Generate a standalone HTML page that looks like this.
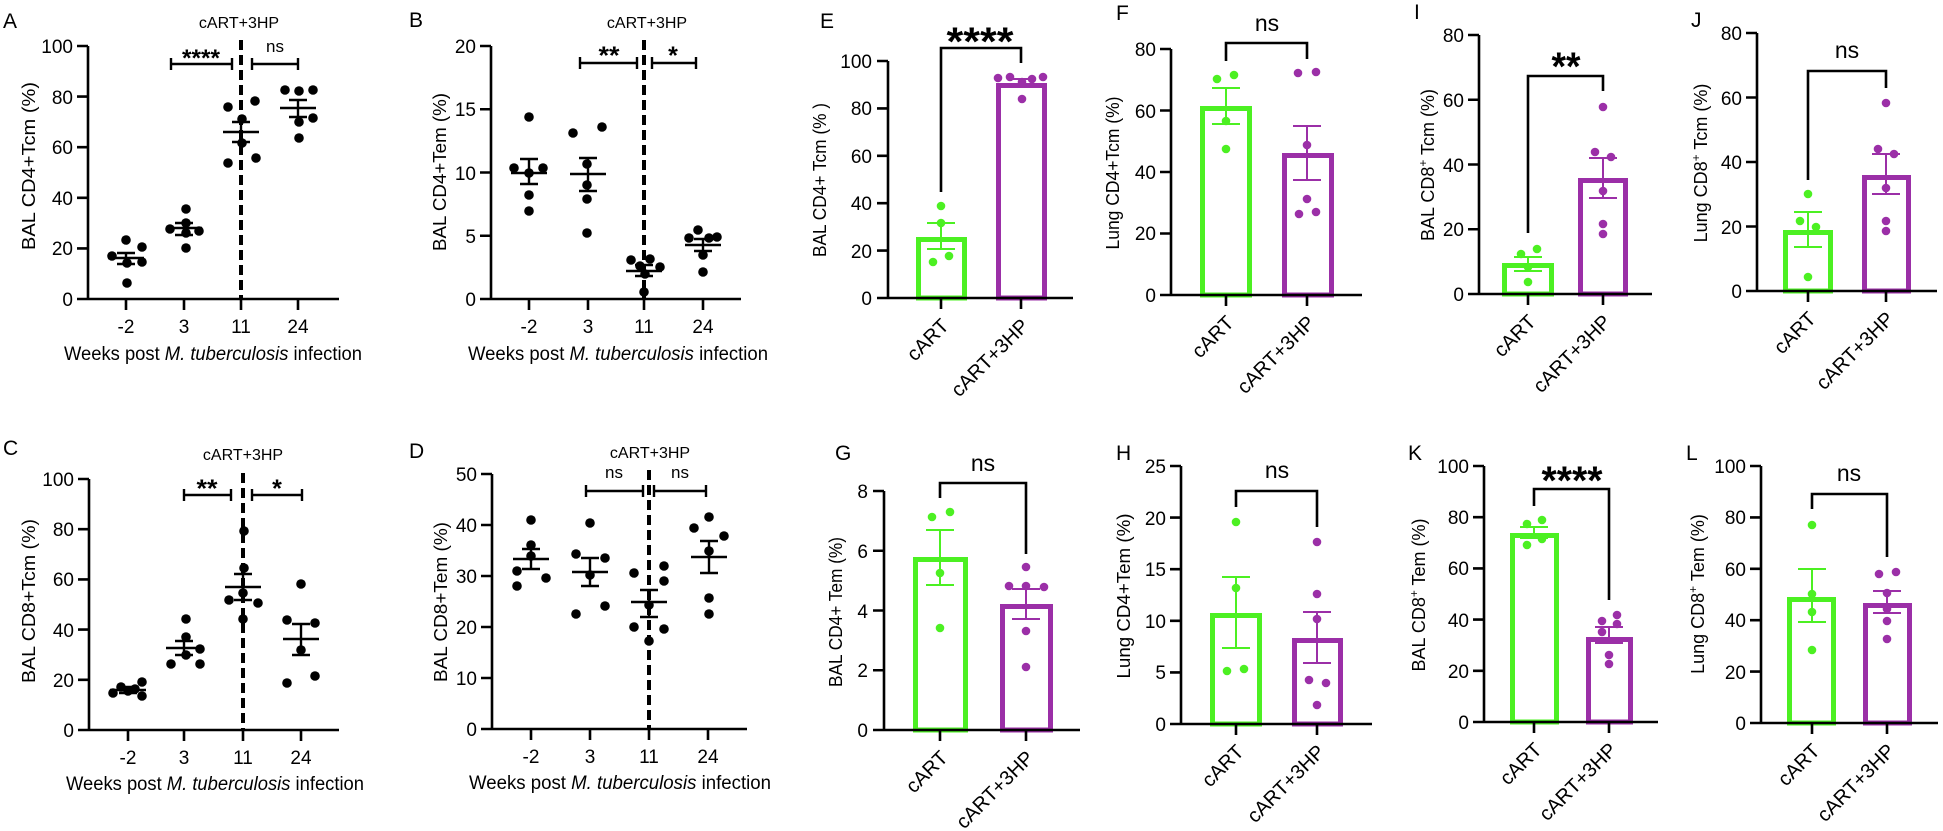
<!DOCTYPE html>
<html><head><meta charset="utf-8"><style>
html,body{margin:0;padding:0;background:#fff}
svg{display:block}
text{font-family:"Liberation Sans",Arial,sans-serif;fill:#000}
.k{stroke:#000;stroke-width:2.6;fill:none}
.m{stroke:#000;stroke-width:2.4;fill:none}
.dash{stroke:#000;stroke-width:4;stroke-dasharray:10 5;fill:none}
.gb{stroke:#4cf022;stroke-width:5;fill:none}
.pb{stroke:#9b2fa7;stroke-width:5;fill:none}
.gs{stroke:#4cf022;stroke-width:2;fill:none}
.ps{stroke:#9b2fa7;stroke-width:2;fill:none}
.gd{fill:#4cf022}
.pd{fill:#9b2fa7}
.tl{font-size:19px}
.tr{font-size:19px;text-anchor:end}
.tm{font-size:19px;text-anchor:middle}
.yt{font-size:18px;text-anchor:middle}
.xl{font-size:20px;text-anchor:end}
.lab{font-size:21px}
.ast{font-weight:bold;text-anchor:middle}
.ns{text-anchor:middle}
.hp{font-size:16px;text-anchor:middle}
</style></head><body>
<svg width="1943" height="831" viewBox="0 0 1943 831" xmlns="http://www.w3.org/2000/svg">

<!-- ================= PANEL A ================= -->
<text class="lab" x="3" y="28">A</text>
<text class="yt" transform="translate(35,166) rotate(-90)" textLength="168" lengthAdjust="spacingAndGlyphs">BAL CD4+Tcm (%)</text>
<path class="k" d="M88,46V299M77,299H339M77,299H88M77,248.4H88M77,197.8H88M77,147.2H88M77,96.6H88M77,46H88M126,299V310M184,299V310M241,299V310M298,299V310"/>
<text class="tr" x="73" y="306">0</text><text class="tr" x="73" y="255">20</text><text class="tr" x="73" y="205">40</text><text class="tr" x="73" y="154">60</text><text class="tr" x="73" y="104">80</text><text class="tr" x="73" y="53">100</text>
<text class="tm" x="126" y="333">-2</text><text class="tm" x="184" y="333">3</text><text class="tm" x="241" y="333">11</text><text class="tm" x="298" y="333">24</text>
<text class="tm" x="213" y="360" textLength="298" lengthAdjust="spacingAndGlyphs">Weeks post <tspan font-style="italic">M. tuberculosis</tspan> infection</text>
<text class="hp" x="239" y="28">cART+3HP</text>
<path class="dash" d="M241,40V299"/>
<path class="m" d="M171,64H232M171,58V70M232,58V70M252,64H298M252,58V70M298,58V70"/>
<text class="ast" x="201" y="66" font-size="24" textLength="38" lengthAdjust="spacingAndGlyphs">****</text>
<text class="ns" x="275" y="52" font-size="17">ns</text>
<g class="d">
<circle cx="126" cy="240" r="4.8"/><circle cx="112" cy="256" r="4.8"/><circle cx="142" cy="247" r="4.8"/><circle cx="127" cy="263" r="4.8"/><circle cx="142" cy="262" r="4.8"/><circle cx="127" cy="283" r="4.8"/>
<circle cx="186" cy="209" r="4.8"/><circle cx="170" cy="229" r="4.8"/><circle cx="186" cy="223" r="4.8"/><circle cx="199" cy="231" r="4.8"/><circle cx="186" cy="233" r="4.8"/><circle cx="186" cy="248" r="4.8"/>
<circle cx="228" cy="107" r="4.8"/><circle cx="255" cy="101" r="4.8"/><circle cx="242" cy="119" r="4.8"/><circle cx="242" cy="143" r="4.8"/><circle cx="228" cy="163" r="4.8"/><circle cx="256" cy="158" r="4.8"/>
<circle cx="285" cy="90" r="4.8"/><circle cx="299" cy="91" r="4.8"/><circle cx="313" cy="90" r="4.8"/><circle cx="313" cy="118" r="4.8"/><circle cx="299" cy="122" r="4.8"/><circle cx="299" cy="138" r="4.8"/>
</g>
<path class="m" d="M108,258H144M126,253V264M117,253H135M117,264H135
M166,228H202M184,223V235M175,223H193M175,235H193
M223,132H259M241,122V142M232,122H250M232,142H250
M280,108H316M298,100V117M289,100H307M289,117H307"/>

<!-- ================= PANEL B ================= -->
<text class="lab" x="409" y="27">B</text>
<text class="yt" transform="translate(446,172) rotate(-90)" textLength="158" lengthAdjust="spacingAndGlyphs">BAL CD4+Tem (%)</text>
<path class="k" d="M491,46V299M480,299H741M480,235.75H491M480,172.5H491M480,109.25H491M480,46H491M529,299V310M588,299V310M644,299V310M703,299V310"/>
<text class="tr" x="476" y="306">0</text><text class="tr" x="476" y="243">5</text><text class="tr" x="476" y="180">10</text><text class="tr" x="476" y="116">15</text><text class="tr" x="476" y="53">20</text>
<text class="tm" x="529" y="333">-2</text><text class="tm" x="588" y="333">3</text><text class="tm" x="644" y="333">11</text><text class="tm" x="703" y="333">24</text>
<text class="tm" x="618" y="360" textLength="300" lengthAdjust="spacingAndGlyphs">Weeks post <tspan font-style="italic">M. tuberculosis</tspan> infection</text>
<text class="hp" x="647" y="28">cART+3HP</text>
<path class="dash" d="M644,40V299"/>
<path class="m" d="M580,63H637M580,57V69M637,57V69M652,63H696M652,57V69M696,57V69"/>
<text class="ast" x="609" y="64" font-size="25" textLength="21" lengthAdjust="spacingAndGlyphs">**</text>
<text class="ast" x="673" y="64" font-size="25">*</text>
<g class="d">
<circle cx="529" cy="117" r="4.8"/><circle cx="514" cy="168" r="4.8"/><circle cx="529" cy="173" r="4.8"/><circle cx="543" cy="168" r="4.8"/><circle cx="529" cy="195" r="4.8"/><circle cx="529" cy="211" r="4.8"/>
<circle cx="573" cy="133" r="4.8"/><circle cx="602" cy="127" r="4.8"/><circle cx="587" cy="164" r="4.8"/><circle cx="587" cy="185" r="4.8"/><circle cx="587" cy="199" r="4.8"/><circle cx="587" cy="233" r="4.8"/>
<circle cx="631" cy="260" r="4.8"/><circle cx="650" cy="259" r="4.8"/><circle cx="640" cy="266" r="4.8"/><circle cx="660" cy="267" r="4.8"/><circle cx="645" cy="274" r="4.8"/><circle cx="644" cy="292" r="4.8"/>
<circle cx="689" cy="238" r="4.8"/><circle cx="698" cy="230" r="4.8"/><circle cx="709" cy="238" r="4.8"/><circle cx="717" cy="237" r="4.8"/><circle cx="703" cy="255" r="4.8"/><circle cx="703" cy="272" r="4.8"/>
</g>
<path class="m" d="M511,173H547M529,159V184M520,159H538M520,184H538
M570,174H606M588,158V191M579,158H597M579,191H597
M626,271H662M644,265V276M635,265H653M635,276H653
M685,245H721M703,239V251M694,239H712M694,251H712"/>

<!-- ================= PANEL C ================= -->
<text class="lab" x="3" y="455">C</text>
<text class="yt" transform="translate(35,601) rotate(-90)" textLength="164" lengthAdjust="spacingAndGlyphs">BAL CD8+Tcm (%)</text>
<path class="k" d="M89,479V730M78,730H339M78,679.8H89M78,629.6H89M78,579.4H89M78,529.2H89M78,479H89M128,730V741M184,730V741M243,730V741M301,730V741"/>
<text class="tr" x="74" y="737">0</text><text class="tr" x="74" y="687">20</text><text class="tr" x="74" y="637">40</text><text class="tr" x="74" y="586">60</text><text class="tr" x="74" y="536">80</text><text class="tr" x="74" y="486">100</text>
<text class="tm" x="128" y="764">-2</text><text class="tm" x="184" y="764">3</text><text class="tm" x="243" y="764">11</text><text class="tm" x="301" y="764">24</text>
<text class="tm" x="215" y="790" textLength="298" lengthAdjust="spacingAndGlyphs">Weeks post <tspan font-style="italic">M. tuberculosis</tspan> infection</text>
<text class="hp" x="243" y="460">cART+3HP</text>
<path class="dash" d="M243,473V730"/>
<path class="m" d="M184,495H231M184,489V501M231,489V501M252,495H302M252,489V501M302,489V501"/>
<text class="ast" x="207" y="497" font-size="25" textLength="21" lengthAdjust="spacingAndGlyphs">**</text>
<text class="ast" x="277" y="497" font-size="25">*</text>
<g class="d">
<circle cx="113" cy="693" r="4.8"/><circle cx="121" cy="687" r="4.8"/><circle cx="128" cy="691" r="4.8"/><circle cx="135" cy="689" r="4.8"/><circle cx="142" cy="682" r="4.8"/><circle cx="142" cy="696" r="4.8"/>
<circle cx="186" cy="619" r="4.8"/><circle cx="186" cy="637" r="4.8"/><circle cx="171" cy="664" r="4.8"/><circle cx="186" cy="655" r="4.8"/><circle cx="200" cy="649" r="4.8"/><circle cx="200" cy="664" r="4.8"/>
<circle cx="244" cy="531" r="4.8"/><circle cx="244" cy="568" r="4.8"/><circle cx="229" cy="600" r="4.8"/><circle cx="243" cy="593" r="4.8"/><circle cx="258" cy="603" r="4.8"/><circle cx="243" cy="619" r="4.8"/>
<circle cx="301" cy="584" r="4.8"/><circle cx="287" cy="620" r="4.8"/><circle cx="315" cy="623" r="4.8"/><circle cx="301" cy="650" r="4.8"/><circle cx="287" cy="683" r="4.8"/><circle cx="315" cy="676" r="4.8"/>
</g>
<path class="m" d="M110,690H146M128,687V693M119,687H137M119,693H137
M166,648H202M184,641V655M175,641H193M175,655H193
M225,587H261M243,574V600M234,574H252M234,600H252
M283,639H319M301,624V655M292,624H310M292,655H310"/>

<!-- ================= PANEL D ================= -->
<text class="lab" x="409" y="458">D</text>
<text class="yt" transform="translate(447,602) rotate(-90)" textLength="160" lengthAdjust="spacingAndGlyphs">BAL CD8+Tem (%)</text>
<path class="k" d="M492,474V729M481,729H747M481,678H492M481,627H492M481,576H492M481,525H492M481,474H492M531,729V740M590,729V740M649,729V740M708,729V740"/>
<text class="tr" x="477" y="736">0</text><text class="tr" x="477" y="685">10</text><text class="tr" x="477" y="634">20</text><text class="tr" x="477" y="583">30</text><text class="tr" x="477" y="532">40</text><text class="tr" x="477" y="481">50</text>
<text class="tm" x="531" y="763">-2</text><text class="tm" x="590" y="763">3</text><text class="tm" x="649" y="763">11</text><text class="tm" x="708" y="763">24</text>
<text class="tm" x="620" y="789" textLength="302" lengthAdjust="spacingAndGlyphs">Weeks post <tspan font-style="italic">M. tuberculosis</tspan> infection</text>
<text class="hp" x="650" y="458">cART+3HP</text>
<path class="dash" d="M649,470V729"/>
<path class="m" d="M586,491H643M586,485V497M643,485V497M654,491H706M654,485V497M706,485V497"/>
<text class="ns" x="614" y="478" font-size="17">ns</text>
<text class="ns" x="680" y="478" font-size="17">ns</text>
<g class="d">
<circle cx="531" cy="520" r="4.8"/><circle cx="531" cy="545" r="4.8"/><circle cx="531" cy="556" r="4.8"/><circle cx="517" cy="571" r="4.8"/><circle cx="546" cy="578" r="4.8"/><circle cx="517" cy="586" r="4.8"/>
<circle cx="590" cy="523" r="4.8"/><circle cx="576" cy="554" r="4.8"/><circle cx="605" cy="558" r="4.8"/><circle cx="590" cy="575" r="4.8"/><circle cx="576" cy="614" r="4.8"/><circle cx="605" cy="606" r="4.8"/>
<circle cx="634" cy="573" r="4.8"/><circle cx="664" cy="566" r="4.8"/><circle cx="664" cy="581" r="4.8"/><circle cx="649" cy="605" r="4.8"/><circle cx="634" cy="627" r="4.8"/><circle cx="664" cy="629" r="4.8"/><circle cx="649" cy="641" r="4.8"/>
<circle cx="709" cy="517" r="4.8"/><circle cx="694" cy="528" r="4.8"/><circle cx="724" cy="536" r="4.8"/><circle cx="709" cy="551" r="4.8"/><circle cx="709" cy="598" r="4.8"/><circle cx="709" cy="614" r="4.8"/>
</g>
<path class="m" d="M513,559H549M531,549V569M522,549H540M522,569H540
M572,572H608M590,558V586M581,558H599M581,586H599
M631,602H667M649,590V617M640,590H658M640,617H658
M691,557H727M709,541V573M700,541H718M700,573H718"/>

<!-- ================= PANEL E ================= -->
<text class="lab" x="820" y="28">E</text>
<text class="yt" transform="translate(826,180) rotate(-90)" textLength="154" lengthAdjust="spacingAndGlyphs">BAL CD4+ Tcm (% )</text>
<rect class="gb" x="918.5" y="239.5" width="46" height="58.5"/>
<rect class="pb" x="998.5" y="85.5" width="46" height="212.5"/>
<path class="k" d="M888,61V298M877,298H1073M877,250.6H888M877,203.2H888M877,155.8H888M877,108.4H888M877,61H888M941,298V309M1021,298V309"/>
<text class="tr" x="872" y="305">0</text><text class="tr" x="872" y="258">20</text><text class="tr" x="872" y="210">40</text><text class="tr" x="872" y="163">60</text><text class="tr" x="872" y="115">80</text><text class="tr" x="872" y="68">100</text>
<text class="xl" transform="translate(950,327) rotate(-45)">cART</text>
<text class="xl" transform="translate(1030,327) rotate(-45)">cART+3HP</text>
<path class="k" d="M941,192V48H1021V63"/>
<text class="ast" x="980" y="55" font-size="40" textLength="67" lengthAdjust="spacingAndGlyphs">****</text>
<g class="gd"><circle cx="941" cy="206" r="4.3"/><circle cx="941" cy="223" r="4.3"/><circle cx="933" cy="262" r="4.3"/><circle cx="949" cy="256" r="4.3"/></g>
<g class="pd"><circle cx="998" cy="78" r="4.3"/><circle cx="1010" cy="77" r="4.3"/><circle cx="1022" cy="82" r="4.3"/><circle cx="1032" cy="79" r="4.3"/><circle cx="1043" cy="77" r="4.3"/><circle cx="1022" cy="99" r="4.3"/></g>
<path class="gs" d="M941,223V249M927,223H955M927,249H955"/>
<path class="ps" d="M1021,79V86M1007,79H1035M1007,86H1035"/>

<!-- ================= PANEL F ================= -->
<text class="lab" x="1116" y="20">F</text>
<text class="yt" transform="translate(1119,173) rotate(-90)" textLength="153" lengthAdjust="spacingAndGlyphs">Lung CD4+Tcm (%)</text>
<rect class="gb" x="1202.5" y="108.5" width="47" height="186.5"/>
<rect class="pb" x="1284.5" y="155.5" width="47" height="139.5"/>
<path class="k" d="M1171,49V295M1160,295H1362M1160,233.5H1171M1160,172H1171M1160,110.5H1171M1160,49H1171M1226,295V306M1307,295V306"/>
<text class="tr" x="1156" y="302">0</text><text class="tr" x="1156" y="240">20</text><text class="tr" x="1156" y="179">40</text><text class="tr" x="1156" y="118">60</text><text class="tr" x="1156" y="56">80</text>
<text class="xl" transform="translate(1235,324) rotate(-45)">cART</text>
<text class="xl" transform="translate(1316,324) rotate(-45)">cART+3HP</text>
<path class="k" d="M1226,61V43H1307V59"/>
<text class="ns" x="1267" y="31" font-size="23">ns</text>
<g class="gd"><circle cx="1217" cy="79" r="4.3"/><circle cx="1234" cy="75" r="4.3"/><circle cx="1226" cy="121" r="4.3"/><circle cx="1226" cy="149" r="4.3"/></g>
<g class="pd"><circle cx="1298" cy="73" r="4.3"/><circle cx="1316" cy="72" r="4.3"/><circle cx="1307" cy="145" r="4.3"/><circle cx="1307" cy="199" r="4.3"/><circle cx="1299" cy="214" r="4.3"/><circle cx="1316" cy="212" r="4.3"/></g>
<path class="gs" d="M1226,88V124M1212,88H1240M1212,124H1240"/>
<path class="ps" d="M1307,126V180M1293,126H1321M1293,180H1321"/>

<!-- ================= PANEL I ================= -->
<text class="lab" x="1414" y="19">I</text>
<text class="yt" transform="translate(1434,165) rotate(-90)">BAL CD8<tspan dy="-7" font-size="12">+</tspan><tspan dy="7"> Tcm (%)</tspan></text>
<rect class="gb" x="1504.5" y="265.5" width="47" height="28.5"/>
<rect class="pb" x="1580.5" y="180.5" width="45" height="113.5"/>
<path class="k" d="M1479,35V294M1468,294H1652M1468,229.25H1479M1468,164.5H1479M1468,99.75H1479M1468,35H1479M1528,294V305M1603,294V305"/>
<text class="tr" x="1464" y="301">0</text><text class="tr" x="1464" y="236">20</text><text class="tr" x="1464" y="172">40</text><text class="tr" x="1464" y="107">60</text><text class="tr" x="1464" y="42">80</text>
<text class="xl" transform="translate(1537,323) rotate(-45)">cART</text>
<text class="xl" transform="translate(1612,323) rotate(-45)">cART+3HP</text>
<path class="k" d="M1528,233V76H1603V91"/>
<text class="ast" x="1566" y="80" font-size="40" textLength="29" lengthAdjust="spacingAndGlyphs">**</text>
<g class="gd"><circle cx="1521" cy="254" r="4.3"/><circle cx="1537" cy="249" r="4.3"/><circle cx="1528" cy="267" r="4.3"/><circle cx="1528" cy="282" r="4.3"/></g>
<g class="pd"><circle cx="1603" cy="107" r="4.3"/><circle cx="1595" cy="152" r="4.3"/><circle cx="1611" cy="157" r="4.3"/><circle cx="1603" cy="191" r="4.3"/><circle cx="1603" cy="224" r="4.3"/><circle cx="1603" cy="234" r="4.3"/></g>
<path class="gs" d="M1528,257V271M1514,257H1542M1514,271H1542"/>
<path class="ps" d="M1603,158V198M1589,158H1617M1589,198H1617"/>

<!-- ================= PANEL J ================= -->
<text class="lab" x="1691" y="27">J</text>
<text class="yt" transform="translate(1707,163) rotate(-90)">Lung CD8<tspan dy="-7" font-size="12">+</tspan><tspan dy="7"> Tcm (%)</tspan></text>
<rect class="gb" x="1785.5" y="232.5" width="45" height="58.5"/>
<rect class="pb" x="1864.5" y="177.5" width="44" height="113.5"/>
<path class="k" d="M1757,33V291M1746,291H1937M1746,226.5H1757M1746,162H1757M1746,97.5H1757M1746,33H1757M1808,291V302M1886,291V302"/>
<text class="tr" x="1742" y="298">0</text><text class="tr" x="1742" y="234">20</text><text class="tr" x="1742" y="169">40</text><text class="tr" x="1742" y="105">60</text><text class="tr" x="1742" y="40">80</text>
<text class="xl" transform="translate(1817,320) rotate(-45)">cART</text>
<text class="xl" transform="translate(1895,320) rotate(-45)">cART+3HP</text>
<path class="k" d="M1808,180V71H1886V88"/>
<text class="ns" x="1847" y="58" font-size="23">ns</text>
<g class="gd"><circle cx="1808" cy="194" r="4.3"/><circle cx="1800" cy="221" r="4.3"/><circle cx="1816" cy="227" r="4.3"/><circle cx="1808" cy="277" r="4.3"/></g>
<g class="pd"><circle cx="1886" cy="103" r="4.3"/><circle cx="1878" cy="149" r="4.3"/><circle cx="1894" cy="154" r="4.3"/><circle cx="1886" cy="188" r="4.3"/><circle cx="1886" cy="221" r="4.3"/><circle cx="1886" cy="231" r="4.3"/></g>
<path class="gs" d="M1808,212V247M1794,212H1822M1794,247H1822"/>
<path class="ps" d="M1886,154V194M1872,154H1900M1872,194H1900"/>

<!-- ================= PANEL G ================= -->
<text class="lab" x="835" y="460">G</text>
<text class="yt" transform="translate(842,612) rotate(-90)" textLength="150" lengthAdjust="spacingAndGlyphs">BAL CD4+ Tem (%)</text>
<rect class="gb" x="915.5" y="559.5" width="50" height="170.5"/>
<rect class="pb" x="1002.5" y="606.5" width="48" height="123.5"/>
<path class="k" d="M884,491V730M873,730H1080M873,670.25H884M873,610.5H884M873,550.75H884M873,491H884M940,730V741M1026,730V741"/>
<text class="tr" x="868" y="737">0</text><text class="tr" x="868" y="677">2</text><text class="tr" x="868" y="618">4</text><text class="tr" x="868" y="558">6</text><text class="tr" x="868" y="498">8</text>
<text class="xl" transform="translate(949,759) rotate(-45)">cART</text>
<text class="xl" transform="translate(1035,759) rotate(-45)">cART+3HP</text>
<path class="k" d="M940,498V483H1026V554"/>
<text class="ns" x="983" y="471" font-size="23">ns</text>
<g class="gd"><circle cx="932" cy="517" r="4.3"/><circle cx="950" cy="512" r="4.3"/><circle cx="940" cy="573" r="4.3"/><circle cx="940" cy="628" r="4.3"/></g>
<g class="pd"><circle cx="1026" cy="567" r="4.3"/><circle cx="1009" cy="586" r="4.3"/><circle cx="1026" cy="586" r="4.3"/><circle cx="1044" cy="587" r="4.3"/><circle cx="1026" cy="631" r="4.3"/><circle cx="1026" cy="667" r="4.3"/></g>
<path class="gs" d="M940,530V585M926,530H954M926,585H954"/>
<path class="ps" d="M1026,589V619M1012,589H1040M1012,619H1040"/>

<!-- ================= PANEL H ================= -->
<text class="lab" x="1116" y="460">H</text>
<text class="yt" transform="translate(1130,596) rotate(-90)" textLength="165" lengthAdjust="spacingAndGlyphs">Lung CD4+Tem (%)</text>
<rect class="gb" x="1212.5" y="615.5" width="47" height="108.5"/>
<rect class="pb" x="1294.5" y="640.5" width="46" height="83.5"/>
<path class="k" d="M1181,466V724M1170,724H1372M1170,672.4H1181M1170,620.8H1181M1170,569.2H1181M1170,517.6H1181M1170,466H1181M1236,724V735M1317,724V735"/>
<text class="tr" x="1166" y="731">0</text><text class="tr" x="1166" y="679">5</text><text class="tr" x="1166" y="628">10</text><text class="tr" x="1166" y="576">15</text><text class="tr" x="1166" y="525">20</text><text class="tr" x="1166" y="473">25</text>
<text class="xl" transform="translate(1245,753) rotate(-45)">cART</text>
<text class="xl" transform="translate(1326,753) rotate(-45)">cART+3HP</text>
<path class="k" d="M1236,507V491H1317V527"/>
<text class="ns" x="1277" y="478" font-size="23">ns</text>
<g class="gd"><circle cx="1236" cy="522" r="4.3"/><circle cx="1236" cy="588" r="4.3"/><circle cx="1227" cy="671" r="4.3"/><circle cx="1244" cy="669" r="4.3"/></g>
<g class="pd"><circle cx="1317" cy="542" r="4.3"/><circle cx="1317" cy="594" r="4.3"/><circle cx="1317" cy="619" r="4.3"/><circle cx="1309" cy="680" r="4.3"/><circle cx="1326" cy="683" r="4.3"/><circle cx="1317" cy="705" r="4.3"/></g>
<path class="gs" d="M1236,577V648M1222,577H1250M1222,648H1250"/>
<path class="ps" d="M1317,612V663M1303,612H1331M1303,663H1331"/>

<!-- ================= PANEL K ================= -->
<text class="lab" x="1408" y="460">K</text>
<text class="yt" transform="translate(1425,595) rotate(-90)">BAL CD8<tspan dy="-7" font-size="12">+</tspan><tspan dy="7"> Tem (%)</tspan></text>
<rect class="gb" x="1512.5" y="535.5" width="44" height="186.5"/>
<rect class="pb" x="1588.5" y="639.5" width="42" height="82.5"/>
<path class="k" d="M1484,466V722M1473,722H1658M1473,670.8H1484M1473,619.6H1484M1473,568.4H1484M1473,517.2H1484M1473,466H1484M1534,722V733M1609,722V733"/>
<text class="tr" x="1469" y="729">0</text><text class="tr" x="1469" y="678">20</text><text class="tr" x="1469" y="627">40</text><text class="tr" x="1469" y="575">60</text><text class="tr" x="1469" y="524">80</text><text class="tr" x="1469" y="473">100</text>
<text class="xl" transform="translate(1543,751) rotate(-45)">cART</text>
<text class="xl" transform="translate(1618,751) rotate(-45)">cART+3HP</text>
<path class="k" d="M1534,506V489H1609V600"/>
<text class="ast" x="1572" y="494" font-size="40" textLength="61" lengthAdjust="spacingAndGlyphs">****</text>
<g class="gd"><circle cx="1527" cy="524" r="4.3"/><circle cx="1542" cy="520" r="4.3"/><circle cx="1527" cy="545" r="4.3"/><circle cx="1542" cy="539" r="4.3"/></g>
<g class="pd"><circle cx="1602" cy="621" r="4.3"/><circle cx="1617" cy="615" r="4.3"/><circle cx="1602" cy="632" r="4.3"/><circle cx="1617" cy="624" r="4.3"/><circle cx="1609" cy="655" r="4.3"/><circle cx="1609" cy="664" r="4.3"/></g>
<path class="gs" d="M1534,527V538M1520,527H1548M1520,538H1548"/>
<path class="ps" d="M1609,627V643M1595,627H1623M1595,643H1623"/>

<!-- ================= PANEL L ================= -->
<text class="lab" x="1686" y="460">L</text>
<text class="yt" transform="translate(1704,594) rotate(-90)">Lung CD8<tspan dy="-7" font-size="12">+</tspan><tspan dy="7"> Tem (%)</tspan></text>
<rect class="gb" x="1789.5" y="599.5" width="44" height="123.5"/>
<rect class="pb" x="1865.5" y="605.5" width="44" height="117.5"/>
<path class="k" d="M1761,466V723M1750,723H1938M1750,671.6H1761M1750,620.2H1761M1750,568.8H1761M1750,517.4H1761M1750,466H1761M1812,723V734M1887,723V734"/>
<text class="tr" x="1746" y="730">0</text><text class="tr" x="1746" y="679">20</text><text class="tr" x="1746" y="627">40</text><text class="tr" x="1746" y="576">60</text><text class="tr" x="1746" y="524">80</text><text class="tr" x="1746" y="473">100</text>
<text class="xl" transform="translate(1821,752) rotate(-45)">cART</text>
<text class="xl" transform="translate(1896,752) rotate(-45)">cART+3HP</text>
<path class="k" d="M1812,509V494H1887V557"/>
<text class="ns" x="1849" y="481" font-size="23">ns</text>
<g class="gd"><circle cx="1812" cy="525" r="4.3"/><circle cx="1812" cy="594" r="4.3"/><circle cx="1812" cy="612" r="4.3"/><circle cx="1812" cy="650" r="4.3"/></g>
<g class="pd"><circle cx="1879" cy="574" r="4.3"/><circle cx="1896" cy="572" r="4.3"/><circle cx="1887" cy="593" r="4.3"/><circle cx="1887" cy="609" r="4.3"/><circle cx="1887" cy="621" r="4.3"/><circle cx="1887" cy="639" r="4.3"/></g>
<path class="gs" d="M1812,569V622M1798,569H1826M1798,622H1826"/>
<path class="ps" d="M1887,591V613M1873,591H1901M1873,613H1901"/>

</svg>
</body></html>
